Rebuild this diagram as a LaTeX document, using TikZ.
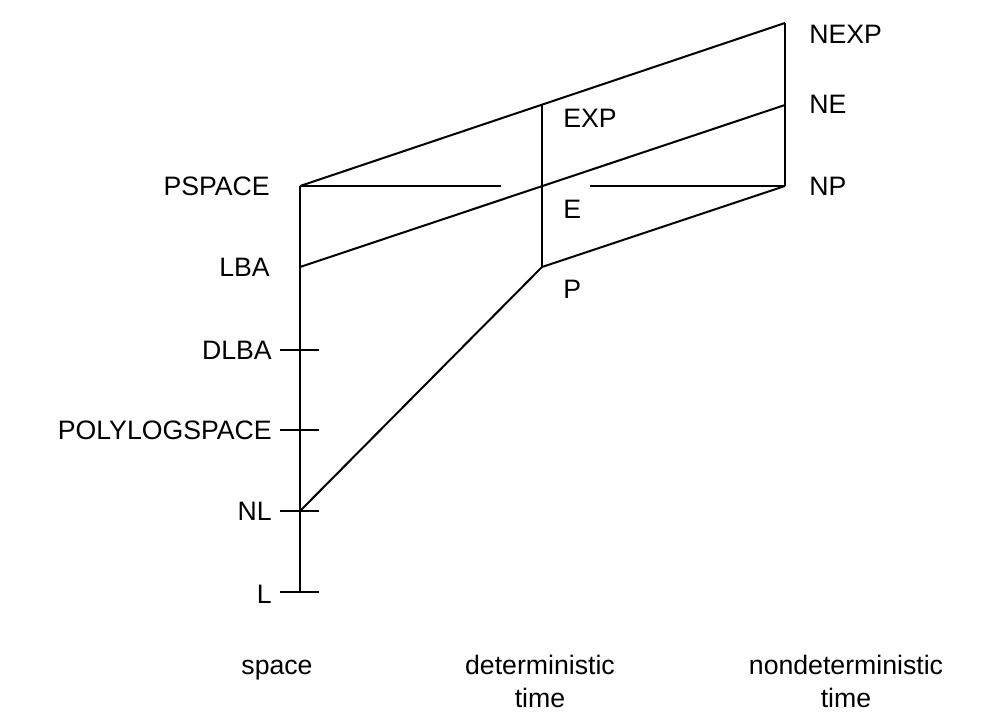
\documentclass[tikz,border=0pt]{standalone}
\usepackage{fontspec}
\setmainfont{Liberation Sans}
\usetikzlibrary{arrows}
\tikzstyle{cls} = [inner sep = 0pt, font = \fontsize{20}{24.75}\selectfont]
\tikzstyle{axis} = [inner sep = 0pt, align = center, anchor = base, font = \fontsize{20}{24.75}\selectfont]
\tikzstyle{line} = [draw, line width = 1.5pt]
\tikzstyle{tick} = [draw, line width = 1.5pt]

\begin{document}
\begin{tikzpicture}[x = 0.75pt, y = -0.75pt]
            \useasboundingbox (0, 0) rectangle (981, 724);

            % corners of the hierarchy
            \coordinate (pspace) at (300, 186);
            \coordinate (lba) at (300, 267);
            \coordinate (dlba) at (300, 350);
            \coordinate (polylog) at (300, 430);
            \coordinate (nl) at (300, 511);
            \coordinate (l) at (300, 592);
            \coordinate (exp) at (542, 104);
            \coordinate (e) at (542, 186);
            \coordinate (p) at (542, 267);
            \coordinate (nexp) at (785, 23);
            \coordinate (ne) at (785, 105);
            \coordinate (np) at (785, 186);
            \coordinate (gapl) at (501, 186);
            \coordinate (gapr) at (590, 186);

            \node[cls, anchor = east] (PSPACE) at (270, 186) {PSPACE};
            \node[cls, anchor = east] (LBA) at (270, 267) {LBA};
            \node[cls, anchor = east] (DLBA) at (272, 350) {DLBA};
            \node[cls, anchor = east] (POLYLOG) at (272, 430) {POLYLOGSPACE};
            \node[cls, anchor = east] (NL) at (272, 511) {NL};
            \node[cls, anchor = east] (L) at (272, 594) {L};
            \node[cls, anchor = west] (EXP) at (563, 118) {EXP};
            \node[cls, anchor = west] (E) at (563, 209) {E};
            \node[cls, anchor = west] (P) at (563, 289) {P};
            \node[cls, anchor = west] (NEXP) at (809, 34) {NEXP};
            \node[cls, anchor = west] (NE) at (809, 104) {NE};
            \node[cls, anchor = west] (NP) at (809, 186) {NP};

            \node[axis] (space) at (277, 674) {space};
            \node[axis] (dtime) at (540, 707) {deterministic\\time};
            \node[axis] (ntime) at (846, 707) {nondeterministic\\time};

            \path[line] (l) -- (pspace);
            \path[line] (pspace) -- (nexp);
            \path[line] (nexp) -- (np);
            \path[line] (exp) -- (p);
            \path[line] (lba) -- (ne);
            \path[line] (p) -- (np);
            \path[line] (nl) -- (p);
            \path[line] (pspace) -- (gapl);
            \path[line] (gapr) -- (np);
            \foreach \c in {dlba, polylog, nl, l}
                \path[tick] (\c) ++(-20, 0) -- ++(39, 0);
        \end{tikzpicture}
\end{document}
